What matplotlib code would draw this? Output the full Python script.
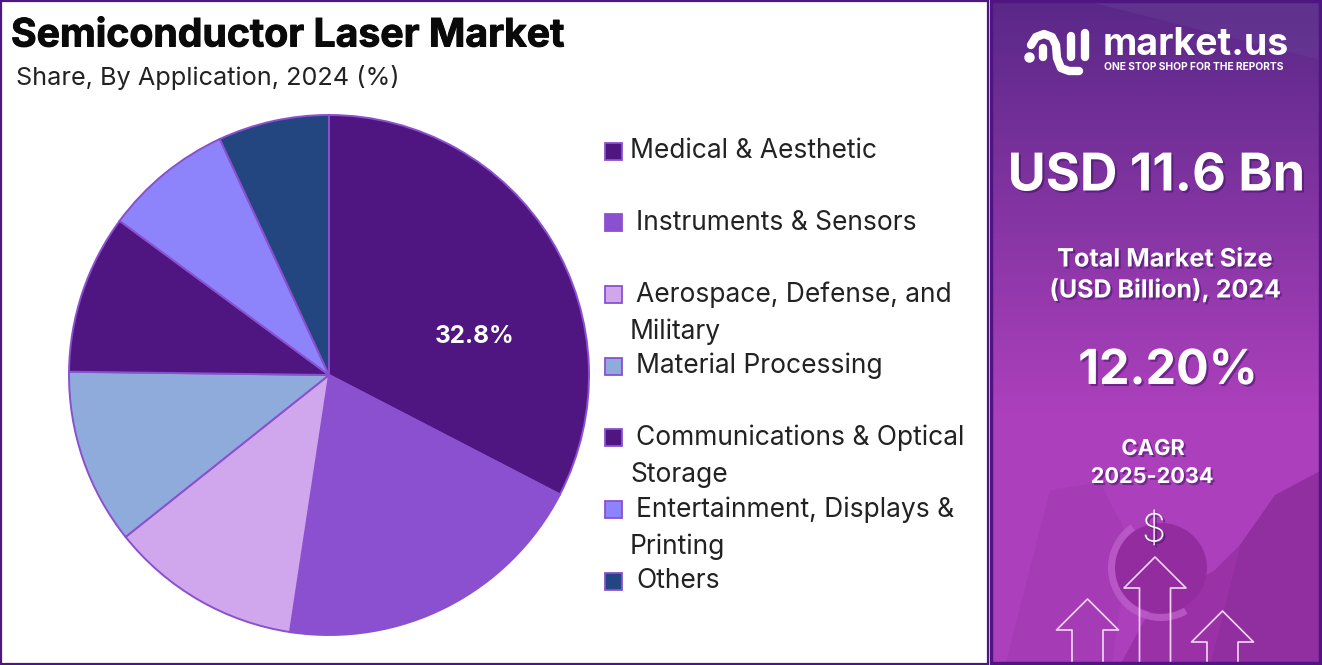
import matplotlib
matplotlib.use('Agg')
import matplotlib.pyplot as plt
import matplotlib.patheffects as pe
import numpy as np
from matplotlib.patches import Polygon, Rectangle, Wedge

W, H = 1322, 665

categories = ['Medical & Aesthetic', 'Instruments & Sensors', 'Aerospace, Defense, and\nMilitary',
              'Material Processing', 'Communications & Optical\nStorage',
              'Entertainment, Displays &\nPrinting', 'Others']
shares = [32.6, 19.8, 11.9, 10.9, 9.9, 8.0, 6.9]
slice_colors = ['#4f1681', '#8a50cf', '#d0a6ec', '#8fabdc', '#4f1681', '#8d84fb', '#234580']
legend_y = [151, 222, 294, 366, 437, 509, 581]
text_y = [152, 224, 296, 367, 439, 511, 582]
text_x = [630, 636, 636, 636, 636, 636, 636]

plt.rcParams['font.family'] = ['Inter', 'DejaVu Sans']
fig = plt.figure(figsize=(W / 100, H / 100), dpi=100, facecolor='white')

bg = fig.add_axes([0, 0, 1, 1])
bg.axis('off')

bg.add_patch(Rectangle((0.5, 0.5), 987.5, 663.5, fc='white', ec='#4f1681', lw=1.6))

# side panel gradient
top = np.array([0x5a, 0x28, 0x88]) / 255
mid = np.array([0xac, 0x40, 0xbc]) / 255
t = np.linspace(0, 1, 200)[:, None]
grad = top + (mid - top) * np.clip(t / 0.62, 0, 1)
bg.imshow(grad[:, None, :], extent=(991, 1322, 665, 0), aspect='auto', zorder=1)
bg.set_xlim(0, W)
bg.set_ylim(H, 0)

# soft shapes in the panel background
bg.add_patch(Polygon([(1090, 2), (1322, 60), (1322, 2)], fc='#6a4a9a', alpha=0.3, lw=0, zorder=2))
bg.add_patch(Polygon([(1210, 665), (1240, 545), (1275, 495), (1322, 470), (1322, 665)],
                     fc='#8e2c9c', alpha=0.85, lw=0, zorder=2))
bg.add_patch(Polygon([(1005, 665), (1050, 490), (1100, 482), (1130, 540), (1112, 665)],
                     fc='#a03ab0', alpha=0.5, lw=0, zorder=2))
bg.add_patch(Polygon([(1120, 665), (1150, 610), (1215, 570), (1240, 545), (1210, 665)],
                     fc='#962ea2', alpha=0.8, lw=0, zorder=2))
theta = np.linspace(0, 2 * np.pi, 100)
bg.fill(1161 + 46 * np.cos(theta), 568 + 45 * np.sin(theta), color='#932c9f', lw=0, zorder=3)
bg.add_patch(Wedge((1161, 568), 53, 60, 235, width=7, fc='#c060cc', alpha=0.75, lw=0, zorder=3))
bg.add_patch(Rectangle((991, 1), 329, 662, fc='none', ec='#4f1681', lw=2.5, zorder=6))

# pie
r_px = 260
cx, cy = 329, 375
ax = fig.add_axes([(cx - r_px) / W, 1 - (cy + r_px) / H, 2 * r_px / W, 2 * r_px / H])
wedges, _ = ax.pie(shares, colors=slice_colors, startangle=90, counterclock=False, radius=1,
                   wedgeprops={'edgecolor': '#8a50cf', 'linewidth': 1.4})
ax.set_xlim(-1, 1)
ax.set_ylim(-1, 1)
ax.text(0.56, 0.148, '32.8%', color='white', fontsize=17.5, fontweight='bold', ha='center', va='center')

# titles
bg.text(11, 36, 'Semiconductor Laser Market', fontsize=28.2, fontweight='bold', color='#0a0a0a', va='center', zorder=7,
        path_effects=[pe.withStroke(linewidth=0.7, foreground='#0a0a0a')])
bg.text(16, 78, 'Share, By Application, 2024 (%)', fontsize=18.2, color='#222222', va='center', zorder=7)

# legend
for name, color, ly, ty, tx in zip(categories, slice_colors, legend_y, text_y, text_x):
    bg.add_patch(Rectangle((605, ly - 8.5), 17, 17, fc=color, ec='#8a50cf', lw=1.3, zorder=7))
    parts = name.split('\n')
    bg.text(tx, ty - 1, parts[0], fontsize=19, color='#222222', va='center', zorder=7)
    if len(parts) > 1:
        bg.text(630, ty + 36, parts[1], fontsize=19, color='#222222', va='center', zorder=7)

# panel text
shadow = [pe.withSimplePatchShadow(offset=(1.5, -1.5), shadow_rgbFace='#3a1060', alpha=0.5)]
panel_text = [
    (1156, 177, 'USD 11.6 Bn', 37.5, 'bold'),
    (1165, 260, 'Total Market Size', 18.2, 'bold'),
    (1165, 290, '(USD Billion), 2024', 18.0, 'bold'),
    (1168, 371, '12.20%', 34.8, 'bold'),
    (1153, 449, 'CAGR', 15.8, 'bold'),
    (1152, 477, '2025-2034', 15.6, 'bold'),
]
for x, y, s, size, weight in panel_text:
    bg.text(x, y, s, fontsize=size, fontweight=weight, color='white', ha='center', va='center',
            zorder=7, path_effects=shadow)
bg.text(1154, 531, '$', fontsize=28, color='white', ha='center', va='center', zorder=7, fontweight='light',
        path_effects=shadow)

# arrows
for apex_x, apex_y in [(1087.5, 599), (1155, 557), (1222.5, 611)]:
    base = apex_y + 31
    xs = [apex_x - 15.5, apex_x - 15.5, apex_x - 31, apex_x, apex_x + 31, apex_x + 15.5, apex_x + 15.5]
    ys = [663, base, base, apex_y, base, base, 663]
    bg.plot(xs, ys, color='#f3d8f5', lw=1.2, zorder=5)

# logo
logo_strokes = [
    [(1031, 45), (1036, 37), (1044, 34), (1052, 37), (1056, 45), (1057, 58), (1061, 68), (1069, 71), (1079, 71)],
    [(1043, 48), (1043, 57)],
    [(1071, 36), (1071, 57)],
    [(1085, 33), (1085, 57)],
]
for stroke in logo_strokes:
    xs, ys = zip(*stroke)
    bg.plot(xs, ys, color='white', lw=6, solid_capstyle='round', solid_joinstyle='round', zorder=7)
bg.plot([1029], [57], 'o', color='white', ms=6.5, zorder=7)
bg.text(1103, 45, 'market.us', fontsize=27, fontweight='bold', color='white', va='center', zorder=7)
bg.text(1103.5, 67.5, 'ONE STOP SHOP FOR THE REPORTS', fontsize=7.4, fontweight='bold', color='white', va='center', zorder=7)

fig.savefig('out.png', dpi=100, facecolor='white')
